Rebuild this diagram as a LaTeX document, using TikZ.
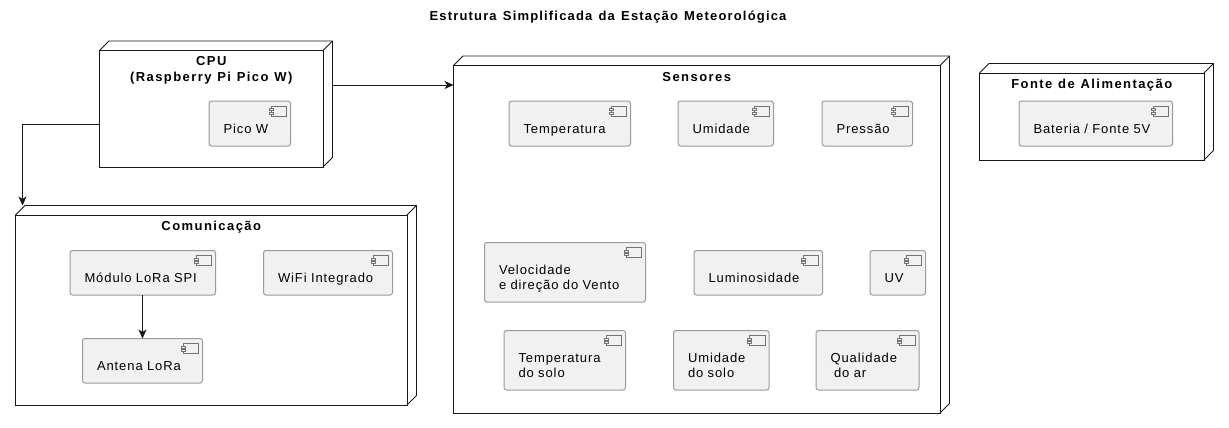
\documentclass[tikz,border=0pt]{standalone}
\usepackage{fontspec}
\setmainfont{Liberation Sans}
\usetikzlibrary{arrows.meta}
\newfontfamily\spacedfont[LetterSpace=7,WordSpace=0.95]{Liberation Sans}
\newfontfamily\spacedbold[LetterSpace=11,WordSpace=1.15]{Liberation Sans Bold}
\newfontfamily\titlebold[LetterSpace=9,WordSpace=1.3]{Liberation Sans Bold}
\definecolor{ink}{HTML}{181818}
\definecolor{compfill}{HTML}{F1F1F1}
\definecolor{compedge}{HTML}{9A9A9A}
\tikzset{
  framebox/.style={draw=ink,line width=0.8pt,fill=white,inner sep=0pt,outer sep=0pt,align=flush center,
    font=\spacedbold\fontsize{13}{16}\selectfont,text=black},
  compbox/.style={draw=compedge,line width=1pt,fill=compfill,rounded corners=2.5pt,inner xsep=0pt,inner ysep=0pt,
    outer sep=0pt,align=flush left,font=\spacedfont\fontsize{13}{15}\selectfont,text=black},
  frameedge/.style={draw=ink,line width=0.8pt},
  iconline/.style={draw=ink!60,line width=0.5pt,fill=compfill},
  link/.style={draw=ink,line width=0.8pt,-{Stealth[length=9pt,width=8pt,inset=2.5pt]}}
}
% name, x1,y1,x2,y2, depth, baseline offset, text
\newcommand{\frameblock}[8]{%
  \node[framebox,minimum width={(#4-#2)*1pt},minimum height={(#5-#3)*1pt},text width={(#4-#2)*1pt},
        text height={#7*1pt},text depth={(#5-#3-#7)*1pt}] (#1) at ({(#2+#4)/2},{(#3+#5)/2}) {#8};
  \draw[frameedge,line join=round] (#1.north west) -- ++(#6,-#6) -- ++({#4-#2},0) -- ++(0,{#5-#3}) -- (#1.south east);
  \draw[frameedge] (#1.north east) -- ++(#6,-#6);
}
% name, x1,y1,x2,y2, text
\newcommand{\compblock}[6]{%
  \node[compbox,minimum width={(#4-#2-0.5)*1pt},minimum height={(#5-#3)*1pt},text width={(#4-#2-29.5)*1pt},
        text height=32pt,text depth={(#5-#3-32)*1pt}] (#1) at ({(#2+#4-0.5)/2},{(#3+#5)/2}) {#6};
  \draw[iconline] ([xshift=-19.5pt,yshift=-5pt]#1.north east) rectangle ([xshift=-4pt,yshift=-15pt]#1.north east);
  \draw[iconline] ([xshift=-21.5pt,yshift=-7.5pt]#1.north east) rectangle ([xshift=-17.5pt,yshift=-9.5pt]#1.north east);
  \draw[iconline] ([xshift=-21.5pt,yshift=-11pt]#1.north east) rectangle ([xshift=-17.5pt,yshift=-13pt]#1.north east);
}
\begin{document}
\begin{tikzpicture}[x=1pt,y=-1pt]
\useasboundingbox (0,0) rectangle (1229,428);
\node[font=\titlebold\fontsize{13}{16}\selectfont,inner sep=0pt] (title) at (608,17.5) {Estrutura Simplificada da Estação Meteorológica};

\frameblock{cpu}{99.5}{50.5}{323}{167}{9.5}{15}{CPU\\(Raspberry Pi Pico W)}
\frameblock{com}{15.5}{215}{407}{405}{9.5}{15}{Comunicação}
\frameblock{sens}{453.5}{65.5}{940}{413}{9.5}{16}{Sensores}
\frameblock{fonte}{979.5}{73}{1204}{160}{9.5}{15.5}{Fonte de Alimentação}

\compblock{pico}{209}{101}{291}{146}{Pico W}
\compblock{temp}{509}{101}{631}{146}{Temperatura}
\compblock{umid}{678}{101}{774}{146}{Umidade}
\compblock{press}{822}{101}{913}{146}{Pressão}
\compblock{vento}{484.5}{242.5}{646}{302}{Velocidade\\e direção do Vento}
\compblock{lum}{694}{250.5}{823}{295}{Luminosidade}
\compblock{uv}{870}{250.5}{926}{295}{UV}
\compblock{tsolo}{504}{330.5}{626}{390}{Temperatura\\do solo}
\compblock{usolo}{673.5}{330.5}{769.5}{390}{Umidade\\do solo}
\compblock{qual}{816}{330.5}{919.5}{390}{Qualidade\\\hspace*{3.6pt}do ar}
\compblock{lora}{70}{250.5}{216}{295}{Módulo LoRa SPI}
\compblock{wifi}{263.5}{250.5}{393}{295}{WiFi Integrado}
\compblock{antena}{82.5}{338.5}{203}{383}{Antena LoRa}
\compblock{bat}{1019}{101}{1173}{146}{Bateria / Fonte 5V}

\coordinate (cpuside) at (332.5,85);
\coordinate (cpuleft) at (99.5,124);
\coordinate (comtop) at (22.5,205.5);
\draw[link] (cpuside) -- (sens.west |- cpuside);
\draw[link] (cpuleft) -- (comtop |- cpuleft) -- (comtop);
\draw[link] (lora.south -| antena.north) -- (antena.north);
\end{tikzpicture}
\end{document}
